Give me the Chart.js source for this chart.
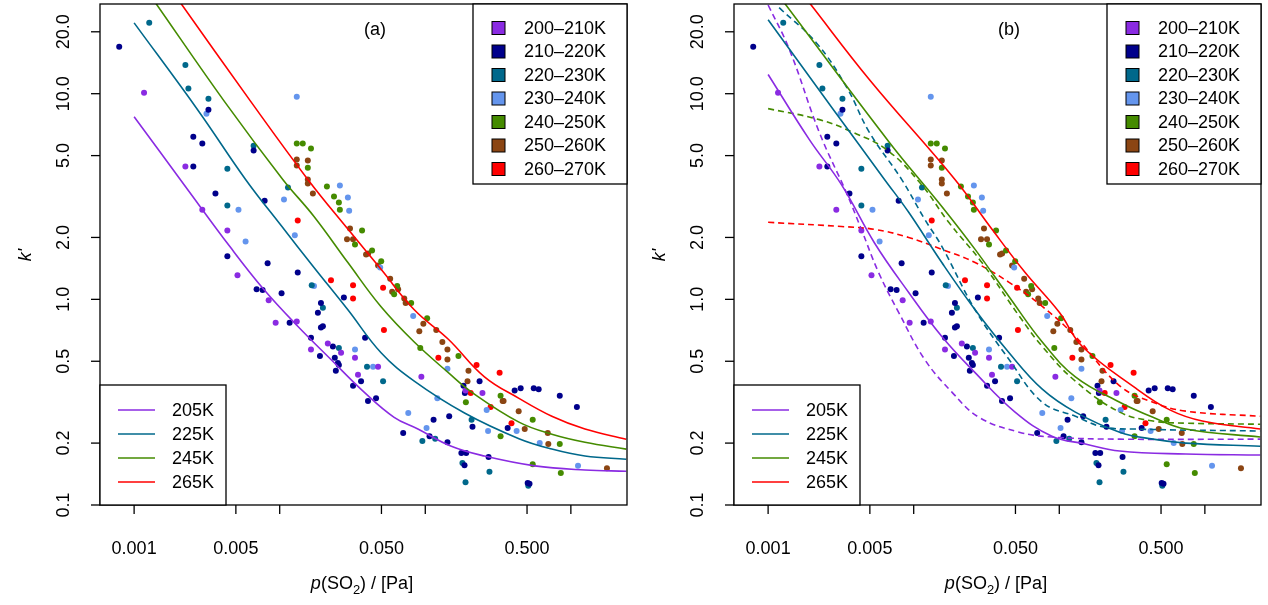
<!DOCTYPE html>
<html>
<head>
<meta charset="utf-8">
<script src="https://cdn.jsdelivr.net/npm/chart.js@4"></script>
<style>
  body { margin: 0; background: #fff; }
  .panel { position: absolute; top: 0; width: 634px; height: 605px; }
</style>
</head>
<body>
<div class="panel" style="left:0"><canvas id="chartA" width="634" height="605"></canvas></div>
<div class="panel" style="left:634px"><canvas id="chartB" width="634" height="605"></canvas></div>
<script>
// measured points [p(SO2) Pa, k']
const groupLabels = ['200–210K', '210–220K', '220–230K', '230–240K', '240–250K', '250–260K', '260–270K'];
const groupColors = ['#8a2be2', '#00008b', '#00688b', '#6495ed', '#458b00', '#8b4513', '#ff0000'];

const pts200 = [[0.00117,10.1],[0.00225,4.42],[0.00294,2.73],[0.00437,2.16],[0.00513,1.31],[0.0084,0.99],
  [0.00938,0.77],[0.0131,0.78],[0.0164,0.57],[0.0214,0.61],[0.0264,0.55],[0.0329,0.52],[0.0345,0.43],
  [0.0474,0.47],[0.094,0.42],[0.189,0.36],[0.247,0.35]];
const pts210 = [[0.00079,16.9],[0.00324,8.36],[0.00255,6.18],[0.00294,5.72],[0.00255,4.42],[0.00362,3.27],
  [0.00437,1.62],[0.00662,5.29],[0.00788,3.02],[0.00826,1.5],[0.00694,1.12],[0.00763,1.11],[0.0103,1.07],
  [0.0133,1.35],[0.0117,0.77],[0.0276,1.02],[0.0192,0.96],[0.0183,0.86],[0.0192,0.73],[0.0198,0.74],
  [0.0164,0.65],[0.0386,0.65],[0.0232,0.59],[0.0189,0.53],[0.0239,0.52],[0.0251,0.49],[0.0255,0.48],
  [0.0243,0.45],[0.0362,0.4],[0.0319,0.38],[0.0404,0.32],[0.0459,0.33],[0.236,0.4],[0.183,0.38],
  [0.187,0.35],[0.411,0.36],[0.452,0.37],[0.556,0.37],[0.601,0.365],[0.839,0.34],[1.1,0.3],[0.146,0.27],
  [0.114,0.26],[0.211,0.24],[0.368,0.237],[0.0705,0.224],[0.107,0.216],[0.142,0.202],[0.177,0.179],
  [0.191,0.179],[0.272,0.171],[0.186,0.156],[0.505,0.128],[0.52,0.127]];
const pts220 = [[0.00127,22.1],[0.00225,13.8],[0.00236,10.6],[0.00324,9.46],[0.00437,4.32],[0.00437,2.86],
  [0.00662,5.59],[0.0114,3.5],[0.0166,1.17],[0.0198,0.91],[0.0255,0.58],[0.0398,0.47],[0.0513,0.4],
  [0.208,0.26],[0.117,0.21],[0.0955,0.205],[0.18,0.16],[0.276,0.145],[0.189,0.129],[0.51,0.124]];
const pts230 = [[0.00314,8.0],[0.00521,2.73],[0.00583,1.91],[0.0107,3.06],[0.0131,9.67],[0.0127,2.05],
  [0.0259,3.58],[0.0294,3.13],[0.03,2.7],[0.0172,1.16],[0.049,1.43],[0.0826,0.83],[0.0329,0.57],
  [0.0438,0.47],[0.142,0.46],[0.121,0.33],[0.264,0.29],[0.0764,0.28],[0.102,0.237],[0.27,0.229],
  [0.424,0.229],[0.611,0.2],[1.12,0.155]];
const pts240 = [[0.0131,5.72],[0.0144,5.72],[0.0164,5.41],[0.0156,4.37],[0.0211,3.54],[0.0236,3.16],
  [0.0255,2.96],[0.0259,2.73],[0.0368,2.16],[0.0329,1.85],[0.0431,1.73],[0.0498,1.53],[0.0641,1.16],
  [0.0611,1.06],[0.08,0.96],[0.103,0.81],[0.0924,0.58],[0.169,0.53],[0.19,0.316],[0.329,0.34],
  [0.547,0.26],[0.329,0.216],[0.839,0.198],[0.547,0.158],[0.853,0.143]];
const pts250 = [[0.0131,4.78],[0.0131,4.47],[0.0156,4.73],[0.0156,3.83],[0.0156,3.66],[0.0169,3.27],
  [0.0304,2.21],[0.029,1.96],[0.0319,1.96],[0.0392,1.65],[0.0405,1.67],[0.0474,1.46],[0.0574,1.26],
  [0.0651,1.12],[0.0592,1.09],[0.0717,1.01],[0.0733,0.96],[0.097,0.76],[0.091,0.7],[0.119,0.71],
  [0.131,0.62],[0.142,0.57],[0.142,0.51],[0.198,0.45],[0.195,0.4],[0.34,0.32],[0.345,0.32],
  [0.438,0.286],[0.482,0.234],[0.694,0.224],[0.7,0.198],[1.77,0.151]];
const pts260 = [[0.0133,2.42],[0.0225,1.24],[0.0319,1.17],[0.0319,1.01],[0.0513,1.14],[0.052,0.71],
  [0.123,0.52],[0.225,0.48],[0.324,0.44],[0.205,0.35],[0.281,0.3],[0.391,0.25]];
const pointGroups = [pts200, pts210, pts220, pts230, pts240, pts250, pts260];

// fitted curves
const fitLabels = ['205K', '225K', '245K', '265K'];
const fitColors = ['#8a2be2', '#00688b', '#458b00', '#ff0000'];
const fitA205 = [[0.001,7.73],[0.00225,3.54],[0.00459,1.79],[0.00776,1.12],[0.0133,0.74],[0.0225,0.51],
  [0.038,0.354],[0.0611,0.267],[0.089,0.234],[0.151,0.193],[0.255,0.173],[0.565,0.155],[1.25,0.148],[2.4,0.146]];
const fitA225 = [[0.001,22.1],[0.00276,8.27],[0.00583,3.83],[0.0102,2.29],[0.0172,1.43],[0.0294,0.89],
  [0.0497,0.55],[0.084,0.4],[0.186,0.28],[0.44,0.21],[0.74,0.187],[1.25,0.173],[2.4,0.167]];
const fitA245 = [[0.0014,27.7],[0.00418,9.15],[0.0105,3.83],[0.0172,2.53],[0.0294,1.51],[0.0497,0.92],
  [0.084,0.62],[0.144,0.44],[0.208,0.354],[0.44,0.253],[0.74,0.221],[1.25,0.202],[2.4,0.187]];
const fitA265 = [[0.00208,27.7],[0.0063,9.2],[0.0156,3.83],[0.0295,2.19],[0.0497,1.4],[0.084,0.89],
  [0.144,0.64],[0.255,0.42],[0.44,0.33],[0.74,0.27],[1.25,0.234],[2.4,0.209]];

const fitB205 = [[0.001,12.4],[0.00192,5.98],[0.00319,3.61],[0.00538,1.88],[0.00924,1.08],[0.0156,0.66],
  [0.0264,0.44],[0.0497,0.283],[0.089,0.216],[0.151,0.198],[0.26,0.183],[0.74,0.177],[2.4,0.175]];
const fitB225 = [[0.001,22.9],[0.00281,8.36],[0.0063,3.83],[0.00924,2.65],[0.0156,1.51],[0.0264,0.89],
  [0.0452,0.55],[0.0764,0.366],[0.129,0.283],[0.26,0.226],[0.44,0.209],[0.74,0.2],[2.4,0.193]];
const fitB245 = [[0.00129,27.7],[0.00683,5.78],[0.0156,2.83],[0.0264,1.75],
  [0.0452,1.03],[0.0764,0.62],[0.129,0.42],[0.26,0.316],[0.44,0.267],[0.74,0.234],[2.4,0.214]];
const fitB265 = [[0.00192,27.7],[0.00497,11.7],[0.0192,3.83],[0.0345,2.19],[0.0583,1.35],[0.1,0.865],
  [0.144,0.59],[0.335,0.37],[0.574,0.29],[0.96,0.256],[2.4,0.234]];
const dashB205 = [[0.001,27],[0.0014,16.4],[0.00225,6.47],[0.00345,3.3],[0.00437,2.19],[0.00574,1.35],
  [0.00788,0.865],[0.0119,0.51],[0.0183,0.354],[0.0281,0.267],[0.053,0.226],[0.089,0.214],[0.26,0.209],[2.4,0.209]];
const dashB225 = [[0.00119,26.2],[0.00214,17.7],[0.00345,10.8],[0.00497,6.47],[0.00826,3.83],[0.0119,2.45],
  [0.0156,1.81],[0.0264,0.89],[0.0452,0.51],[0.0764,0.316],[0.129,0.27],[0.198,0.24],[0.335,0.234],[2.4,0.229]];
const dashB245 = [[0.001,8.46],[0.00225,7.48],[0.00386,6.47],[0.00651,5.35],[0.011,3.7],[0.0174,2.37],
  [0.0294,1.51],[0.053,0.83],[0.0764,0.59],[0.129,0.4],[0.26,0.283],[0.44,0.256],[0.74,0.25],[2.4,0.247]];
const dashB265 = [[0.001,2.37],[0.00319,2.26],[0.00538,2.19],[0.00924,2.0],[0.0156,1.75],[0.0264,1.51],
  [0.0452,1.21],[0.0764,0.925],[0.129,0.66],[0.26,0.38],[0.44,0.316],[0.74,0.286],[2.4,0.27]];

const xTicks = [0.001, 0.005, 0.01, 0.05, 0.1, 0.5, 1];
const xTickLabels = ['0.001', '0.005', '', '0.050', '', '0.500', ''];
const yTicks = [0.1, 0.2, 0.5, 1, 2, 5, 10, 20];
const yTickLabels = ['0.1', '0.2', '0.5', '1.0', '2.0', '5.0', '10.0', '20.0'];

const FONT = '"Liberation Sans", Arial, sans-serif';
const FS = 18;
const toXY = arr => arr.map(p => ({ x: p[0], y: p[1] }));

function buildDatasets(solid, dashed) {
  const sets = [];
  solid.forEach((c, i) => sets.push({
    type: 'line', data: toXY(c), borderColor: fitColors[i], borderWidth: 1.6,
    pointRadius: 0, fill: false, tension: 0.4, order: 1
  }));
  (dashed || []).forEach((c, i) => sets.push({
    type: 'line', data: toXY(c), borderColor: fitColors[i], borderWidth: 1.6, borderDash: [6, 4],
    pointRadius: 0, fill: false, tension: 0.4, order: 1
  }));
  pointGroups.forEach((g, i) => sets.push({
    type: 'scatter', data: toXY(g), backgroundColor: groupColors[i], borderColor: groupColors[i],
    pointRadius: 3, borderWidth: 0, order: 2
  }));
  return sets;
}

// R-style frame, axes, legends
function axesPlugin(tag) {
  return {
    id: 'rAxes',
    afterDraw(chart) {
      const ctx = chart.ctx, a = chart.chartArea;
      const xs = chart.scales.x, ys = chart.scales.y;
      ctx.save();
      ctx.strokeStyle = '#000';
      ctx.lineWidth = 1.3;
      ctx.strokeRect(a.left, a.top, a.right - a.left, a.bottom - a.top);
      ctx.fillStyle = '#000';
      ctx.font = FS + 'px ' + FONT;
      // x axis
      ctx.textAlign = 'center'; ctx.textBaseline = 'middle';
      xTicks.forEach((t, i) => {
        const px = xs.getPixelForValue(t);
        ctx.beginPath(); ctx.moveTo(px, a.bottom); ctx.lineTo(px, a.bottom + 9); ctx.stroke();
        if (xTickLabels[i]) ctx.fillText(xTickLabels[i], px, 549);
      });
      // y axis
      yTicks.forEach((t, i) => {
        const py = ys.getPixelForValue(t);
        ctx.beginPath(); ctx.moveTo(a.left, py); ctx.lineTo(a.left - 9, py); ctx.stroke();
        ctx.save();
        ctx.translate(a.left - 36, py);
        ctx.rotate(-Math.PI / 2);
        ctx.fillText(yTickLabels[i], 0, 0);
        ctx.restore();
      });
      // axis titles
      ctx.save();
      ctx.translate(26, 255);
      ctx.rotate(-Math.PI / 2);
      ctx.font = 'italic ' + FS + 'px ' + FONT;
      ctx.fillText("k'", 0, 0);
      ctx.restore();
      const parts = [['italic 18px ', 'p'], ['18px ', '(SO'], ['13px ', '2'], ['18px ', ') / [Pa]']];
      let w = 0;
      parts.forEach(p => { ctx.font = p[0] + FONT; w += ctx.measureText(p[1]).width; });
      let cx = 362 - w / 2;
      ctx.textAlign = 'left';
      parts.forEach(p => {
        ctx.font = p[0] + FONT;
        ctx.fillText(p[1], cx, p[1] === '2' ? 590 : 584);
        cx += ctx.measureText(p[1]).width;
      });
      // panel tag
      ctx.font = FS + 'px ' + FONT;
      ctx.textAlign = 'center';
      ctx.fillText(tag, 375, 30);
      // group legend
      ctx.fillStyle = '#fff';
      ctx.fillRect(473, a.top, a.right - 473, 180);
      ctx.strokeRect(473, a.top, a.right - 473, 180);
      ctx.textAlign = 'left';
      groupLabels.forEach((lab, i) => {
        const y = 28 + i * 23.5;
        ctx.fillStyle = groupColors[i];
        ctx.fillRect(492, y - 6.5, 13, 13);
        ctx.lineWidth = 1;
        ctx.strokeRect(492, y - 6.5, 13, 13);
        ctx.fillStyle = '#000';
        ctx.fillText(lab, 524, y + 1);
      });
      // fit legend
      ctx.lineWidth = 1.3;
      ctx.fillStyle = '#fff';
      ctx.fillRect(a.left, 385, 126, a.bottom - 385);
      ctx.strokeRect(a.left, 385, 126, a.bottom - 385);
      fitLabels.forEach((lab, i) => {
        const y = 410 + i * 24;
        ctx.strokeStyle = fitColors[i];
        ctx.lineWidth = 1.6;
        ctx.beginPath(); ctx.moveTo(118, y); ctx.lineTo(155, y); ctx.stroke();
        ctx.fillStyle = '#000';
        ctx.fillText(lab, 172, y + 1);
      });
      ctx.restore();
    }
  };
}

function makeChart(id, tag, solid, dashed) {
  return new Chart(document.getElementById(id).getContext('2d'), {
    type: 'scatter',
    data: { datasets: buildDatasets(solid, dashed) },
    options: {
      responsive: false, animation: false, devicePixelRatio: 1,
      layout: { padding: { left: 100, right: 7, top: 4, bottom: 100 } },
      plugins: { legend: { display: false }, tooltip: { enabled: false } },
      scales: {
        x: { type: 'logarithmic', min: 0.000583, max: 2.43, display: false },
        y: { type: 'logarithmic', min: 0.1, max: 27.3, display: false }
      }
    },
    plugins: [axesPlugin(tag)]
  });
}

makeChart('chartA', '(a)', [fitA205, fitA225, fitA245, fitA265], null);
makeChart('chartB', '(b)', [fitB205, fitB225, fitB245, fitB265], [dashB205, dashB225, dashB245, dashB265]);
</script>
</body>
</html>
